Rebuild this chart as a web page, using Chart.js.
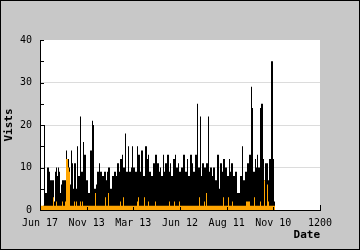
<!DOCTYPE html>
<html>
<head>
<meta charset="utf-8">
<script src="https://cdn.jsdelivr.net/npm/chart.js@4/dist/chart.umd.min.js"></script>
<style>
  html, body { margin: 0; padding: 0; background: #c8c8c8; }
  canvas { display: block; }
</style>
</head>
<body>
<canvas id="visits" width="360" height="250"></canvas>
<script>
// x axis runs 0..1200, one data column per screen column
const X_MAX = 1200;
const COL_STEP = 1200 / 280;
const X_LABELS = ["Jun 17", "Nov 13", "Mar 13", "Jun 12", "Aug 11", "Nov 10", "1200"];

// daily visits (black)
const visits = [
  0, 0, 0, 1, 20, 4, 4, 10, 10, 9,
  7, 7, 7, 7, 2, 9, 10, 8, 10, 9,
  4, 6, 7, 7, 7, 7, 14, 12, 12, 10,
  6, 14, 11, 5, 11, 11, 5, 15, 8, 8,
  22, 9, 9, 16, 13, 13, 7, 7, 4, 4,
  14, 14, 21, 20, 5, 5, 6, 9, 9, 11,
  9, 9, 8, 8, 9, 9, 7, 9, 10, 10,
  5, 5, 8, 8, 9, 9, 8, 11, 11, 9,
  12, 12, 13, 10, 10, 18, 9, 9, 15, 9,
  9, 10, 15, 10, 10, 9, 9, 15, 13, 13,
  9, 14, 14, 8, 8, 15, 15, 12, 13, 9,
  9, 8, 8, 11, 11, 13, 13, 11, 11, 9,
  10, 8, 8, 13, 9, 11, 11, 13, 13, 9,
  11, 8, 8, 12, 12, 13, 10, 10, 11, 9,
  9, 10, 10, 13, 13, 9, 9, 12, 8, 8,
  13, 13, 11, 9, 9, 13, 13, 25, 10, 10,
  22, 8, 11, 11, 10, 10, 11, 11, 22, 9,
  10, 10, 8, 10, 10, 7, 7, 13, 13, 5,
  11, 11, 9, 12, 12, 10, 10, 8, 8, 12,
  9, 11, 11, 8, 8, 9, 9, 4, 4, 4,
  8, 8, 15, 7, 7, 9, 9, 11, 11, 13,
  13, 29, 24, 9, 9, 12, 10, 13, 10, 10,
  24, 25, 25, 12, 7, 11, 11, 11, 7, 12,
  12, 35, 35, 12, 2, 26
];

// second series (orange)
const uniques = [
  1, 1, 1, 1, 1, 1, 1, 1, 1, 1,
  1, 1, 1, 3, 1, 1, 2, 1, 1, 1,
  1, 1, 2, 1, 1, 2, 12, 12, 10, 9,
  1, 1, 1, 1, 2, 1, 2, 1, 1, 1,
  2, 1, 2, 1, 1, 1, 1, 1, 1, 1,
  1, 1, 1, 1, 1, 4, 1, 1, 1, 1,
  1, 1, 1, 1, 1, 3, 1, 1, 4, 1,
  1, 1, 1, 1, 1, 1, 1, 1, 1, 1,
  2, 1, 1, 3, 1, 1, 1, 1, 1, 1,
  1, 1, 1, 1, 1, 1, 1, 2, 3, 1,
  1, 1, 1, 1, 3, 1, 1, 1, 2, 1,
  1, 1, 1, 1, 1, 2, 1, 1, 1, 1,
  1, 1, 1, 1, 1, 1, 1, 1, 1, 2,
  1, 1, 1, 1, 2, 1, 1, 1, 1, 2,
  1, 1, 1, 1, 1, 1, 1, 1, 1, 1,
  1, 1, 1, 1, 1, 1, 1, 1, 1, 3,
  1, 1, 1, 1, 2, 1, 4, 1, 1, 1,
  1, 1, 1, 1, 1, 1, 1, 1, 1, 1,
  1, 1, 1, 3, 1, 1, 1, 1, 3, 1,
  1, 1, 2, 1, 1, 1, 1, 1, 1, 1,
  1, 1, 1, 1, 1, 1, 2, 2, 2, 2,
  1, 1, 1, 1, 3, 1, 1, 1, 1, 1,
  2, 1, 1, 1, 7, 1, 1, 6, 2, 1,
  1, 1, 1, 1, 1, 1
];

const FONT = "'DejaVu Sans Mono', monospace";

const toPoints = (arr) => arr.map((v, i) => ({ x: i * COL_STEP, y: v }));

const frame = {
  id: "frame",
  beforeDraw(chart) {
    const { ctx, chartArea: a } = chart;
    ctx.save();
    ctx.fillStyle = "#c8c8c8";
    ctx.fillRect(0, 0, chart.width, chart.height);
    ctx.fillStyle = "#fff";
    ctx.fillRect(a.left, a.top, a.right - a.left, a.bottom - a.top);
    ctx.strokeStyle = "#000";
    ctx.lineWidth = 1;
    ctx.strokeRect(0.5, 0.5, chart.width - 1, chart.height - 1);
    ctx.restore();
  },
  afterDatasetsDraw(chart) {
    const { ctx, chartArea: a, scales } = chart;
    const xs = scales.x, ys = scales.y;
    ctx.save();
    ctx.strokeStyle = "#000";
    ctx.lineWidth = 1;
    ctx.beginPath();
    // axes
    ctx.moveTo(a.left + 0.5, a.top);
    ctx.lineTo(a.left + 0.5, a.bottom + 1);
    ctx.moveTo(a.left, a.bottom + 0.5);
    ctx.lineTo(a.right + 1, a.bottom + 0.5);
    // y ticks (major + minor), pointing inward
    for (let v = 0; v <= 40; v += 5) {
      const y = Math.round(ys.getPixelForValue(v)) + 0.5;
      ctx.moveTo(a.left, y);
      ctx.lineTo(a.left + 4, y);
    }
    // x ticks, pointing up
    for (let v = 200; v <= X_MAX; v += 200) {
      const x = Math.round(xs.getPixelForValue(v)) + 0.5;
      ctx.moveTo(x, a.bottom + 1);
      ctx.lineTo(x, a.bottom - (v === X_MAX ? 5 : 3));
    }
    ctx.stroke();
    ctx.restore();
  }
};

new Chart(document.getElementById("visits"), {
  type: "line",
  data: {
    datasets: [
      {
        label: "Uniques",
        data: toPoints(uniques),
        stepped: true,
        fill: "origin",
        backgroundColor: "#ffa500",
        borderWidth: 0,
        pointRadius: 0,
        order: 0,
      },
      {
        label: "Visits",
        data: toPoints(visits),
        stepped: true,
        fill: "origin",
        backgroundColor: "#000",
        borderWidth: 0,
        pointRadius: 0,
        order: 1,
      },
    ],
  },
  options: {
    responsive: false,
    animation: false,
    devicePixelRatio: 1,
    events: [],
    layout: { padding: { top: 40, right: 40, left: 0, bottom: 0 } },
    plugins: { legend: { display: false }, tooltip: { enabled: false } },
    scales: {
      x: {
        type: "linear",
        min: 0,
        max: X_MAX,
        afterFit: (s) => { s.height = 40; },
        grid: { display: false, drawTicks: false },
        border: { display: false },
        ticks: {
          stepSize: 200,
          autoSkip: false,
          maxRotation: 0,
          padding: 7,
          color: "#000",
          font: { family: FONT, size: 10 },
          callback: (v, i) => X_LABELS[i],
        },
        title: {
          display: true,
          text: "Date",
          align: "end",
          color: "#000",
          font: { family: FONT, size: 11, weight: "bold" },
          padding: { top: 0, bottom: 8 },
        },
      },
      y: {
        min: 0,
        max: 40,
        afterFit: (s) => { s.width = 40; },
        border: { display: false },
        grid: {
          drawTicks: false,
          lineWidth: 1,
          color: (c) => (c.tick && c.tick.value > 0 && c.tick.value < 40 ? "#dcdcdc" : "rgba(0,0,0,0)"),
        },
        ticks: {
          stepSize: 10,
          padding: 8,
          color: "#000",
          font: { family: FONT, size: 10 },
        },
        title: {
          display: true,
          text: "Vists",
          color: "#000",
          font: { family: FONT, size: 11, weight: "bold" },
          padding: { top: 3, bottom: 0 },
        },
      },
    },
  },
  plugins: [frame],
});
</script>
</body>
</html>
